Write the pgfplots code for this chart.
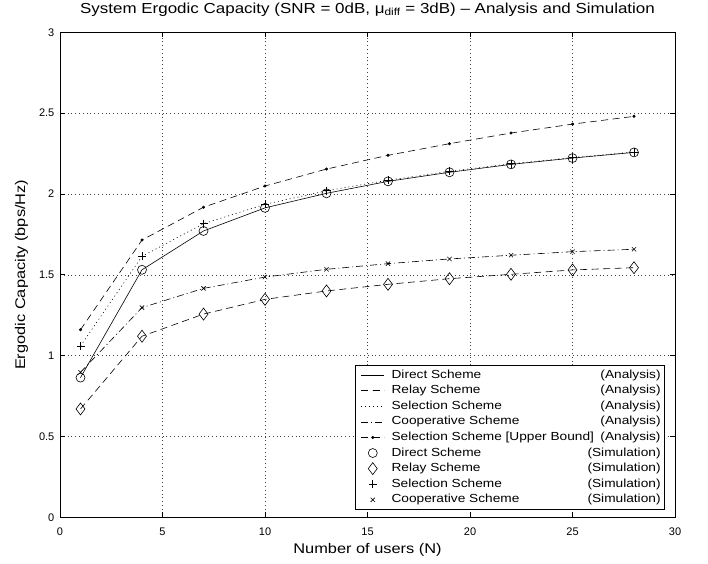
\documentclass[border=0pt]{standalone}
\usepackage{fontspec}
\setmainfont{Liberation Sans}
\newfontfamily\widefont[FakeStretch=1.17]{Liberation Sans}
\usepackage{pgfplots}
\usepackage{pgfplotstable}
\pgfplotsset{compat=1.18}

% N, direct, relay, selection, cooperative, selection upper bound
\pgfplotstableread{
N  direct relay select coop  upper
1  0.864  0.670 1.060  0.897 1.160
4  1.531  1.120 1.614  1.297 1.715
7  1.771  1.257 1.816  1.416 1.918
10 1.914  1.348 1.936  1.486 2.049
13 2.004  1.400 2.020  1.534 2.154
16 2.078  1.441 2.085  1.569 2.239
19 2.134  1.476 2.140  1.598 2.311
22 2.183  1.503 2.187  1.621 2.377
25 2.222  1.530 2.225  1.643 2.432
28 2.257  1.544 2.260  1.658 2.480
}\capdata

\newcommand{\legtxt}[2]{\makebox[269bp][l]{#1\hfill(#2)}}

\begin{document}
\begin{tikzpicture}
\path[use as bounding box] (0,0) rectangle (708bp,564bp);
\begin{axis}[
    at={(60bp,46.7bp)}, anchor=south west,
    scale only axis, width=615bp, height=485bp,
    xmin=0, xmax=30, ymin=0, ymax=3,
    xtick={0,5,...,30}, ytick={0,0.5,...,3},
    xtick pos=both, ytick pos=both,
    tick align=inside, major tick length=5bp,
    axis line style={line width=0.8bp},
    every tick/.style={black, line width=0.6bp},
    grid=major,
    major grid style={black!75, line width=0.5bp, dash pattern=on 0.8bp off 3bp},
    /pgf/number format/assume math mode=true,
    tick label style={font=\fontsize{11bp}{13bp}\selectfont},
    xticklabel style={anchor=base, yshift=-18.3bp},
    yticklabel style={anchor=east, inner sep=0pt, xshift=-5.5bp},
    title={System Ergodic Capacity (SNR = 0dB, μ\textsubscript{diff} = 3dB) – Analysis and Simulation},
    title style={at={(0.5,1.0274)}, anchor=base, font=\widefont\fontsize{14.5bp}{16bp}\selectfont},
    xlabel={Number of users (N)},
    xlabel style={at={(0.5,-0.0742)}, anchor=base, font=\widefont\fontsize{14bp}{16bp}\selectfont},
    ylabel={Ergodic Capacity (bps/Hz)},
    ylabel style={at={(-0.0569,0.5)}, anchor=base, font=\widefont\fontsize{14bp}{16bp}\selectfont},
    legend cell align=left,
    legend style={at={(0.9837,0.0150)}, anchor=south east, draw=black,
        line width=0.8bp, inner xsep=2bp, inner ysep=2bp, column sep=5bp,
        font=\widefont\fontsize{11.7bp}{13bp}\selectfont,
        nodes={text height=8.6bp, text depth=2.6bp, inner ysep=2.2bp, inner xsep=2bp}},
    legend image code/.code={\path[draw=none] (-4bp,0bp) (23bp,0bp);
        \draw[mark repeat=2,mark phase=2,#1]
        plot coordinates {(0bp,0bp) (11.5bp,0bp) (23bp,0bp)};},
    every axis plot/.append style={black, line width=0.6bp},
]
\addplot[solid, no marks] table[x=N, y=direct] {\capdata};
\addlegendentry{\legtxt{Direct Scheme}{Analysis}}
\addplot[dash pattern=on 7bp off 4.5bp, no marks] table[x=N, y=relay] {\capdata};
\addlegendentry{\legtxt{Relay Scheme}{Analysis}}
\addplot[dash pattern=on 1bp off 3bp, no marks] table[x=N, y=select] {\capdata};
\addlegendentry{\legtxt{Selection Scheme}{Analysis}}
\addplot[dash pattern=on 7bp off 3bp on 1bp off 3bp, no marks] table[x=N, y=coop] {\capdata};
\addlegendentry{\legtxt{Cooperative Scheme}{Analysis}}
\addplot[dash pattern=on 7bp off 4.5bp, mark=*, mark size=1.2bp, mark options={solid}] table[x=N, y=upper] {\capdata};
\addlegendentry{\legtxt{Selection Scheme [Upper Bound]}{Analysis}}
\addplot[only marks, mark=o, mark size=4.5bp] table[x=N, y=direct] {\capdata};
\addlegendentry{\legtxt{Direct Scheme}{Simulation}}
\addplot[only marks, mark=diamond, mark size=6bp] table[x=N, y=relay] {\capdata};
\addlegendentry{\legtxt{Relay Scheme}{Simulation}}
\addplot[only marks, mark=+, mark size=4bp] table[x=N, y=select] {\capdata};
\addlegendentry{\legtxt{Selection Scheme}{Simulation}}
\addplot[only marks, mark=x, mark size=3bp] table[x=N, y=coop] {\capdata};
\addlegendentry{\legtxt{Cooperative Scheme}{Simulation}}
\end{axis}
\end{tikzpicture}
\end{document}
